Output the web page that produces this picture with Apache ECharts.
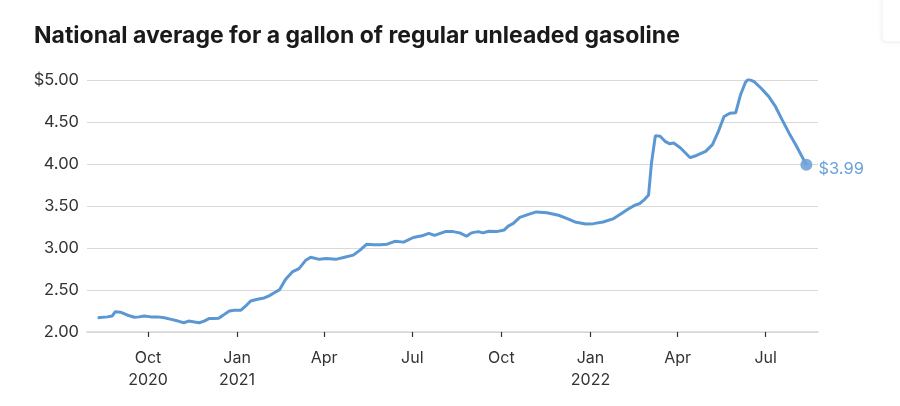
<!DOCTYPE html>
<html>
<head>
<meta charset="utf-8">
<script src="https://cdn.jsdelivr.net/npm/echarts@6/dist/echarts.min.js"></script>
<style>
html,body{margin:0;padding:0;background:#fff;}
#chart{width:900px;height:406px;}
</style>
</head>
<body>
<div id="chart"></div>
<script>
const titleText = 'National average for a gallon of regular unleaded gasoline';

const dates = [
 '2020-08-10','2020-08-20','2020-08-25','2020-08-28','2020-09-03','2020-09-10','2020-09-17','2020-09-22','2020-09-27',
 '2020-10-04','2020-10-11','2020-10-18','2020-10-25','2020-11-01','2020-11-07','2020-11-12','2020-11-18','2020-11-23','2020-11-28',
 '2020-12-03','2020-12-08','2020-12-13','2020-12-17','2020-12-24','2020-12-29',
 '2021-01-05','2021-01-10','2021-01-15','2021-01-22','2021-01-29','2021-02-03','2021-02-08','2021-02-14','2021-02-20','2021-02-27',
 '2021-03-06','2021-03-13','2021-03-18','2021-03-27','2021-04-03','2021-04-13','2021-04-22','2021-05-01','2021-05-08','2021-05-15',
 '2021-05-22','2021-05-29','2021-06-05','2021-06-13','2021-06-22','2021-07-02','2021-07-11','2021-07-18','2021-07-24',
 '2021-08-04','2021-08-12','2021-08-19','2021-08-26','2021-08-31','2021-09-07','2021-09-12','2021-09-18','2021-09-26',
 '2021-10-04','2021-10-08','2021-10-13','2021-10-20','2021-10-22','2021-10-29','2021-11-06','2021-11-17','2021-11-29',
 '2021-12-08','2021-12-16','2021-12-27','2022-01-04','2022-01-14','2022-01-25','2022-02-02','2022-02-09','2022-02-16',
 '2022-02-21','2022-02-26','2022-03-02','2022-03-05','2022-03-09','2022-03-14','2022-03-19','2022-03-24','2022-03-28',
 '2022-04-04','2022-04-14','2022-04-19','2022-04-24','2022-04-30','2022-05-07','2022-05-13','2022-05-19','2022-05-25',
 '2022-05-31','2022-06-05','2022-06-10','2022-06-13','2022-06-19','2022-06-26','2022-07-04','2022-07-11','2022-07-18',
 '2022-07-25','2022-08-01','2022-08-12'
];

const prices = [
 2.17,2.18,2.19,2.24,2.235,2.20,2.175,2.18,2.19,
 2.18,2.18,2.17,2.15,2.13,2.11,2.13,2.12,2.11,2.13,
 2.16,2.16,2.165,2.195,2.25,2.26,
 2.26,2.31,2.37,2.39,2.405,2.43,2.465,2.505,2.625,2.715,
 2.755,2.855,2.89,2.865,2.875,2.865,2.89,2.915,2.975,3.045,
 3.04,3.04,3.045,3.08,3.07,3.125,3.145,3.175,3.15,
 3.195,3.195,3.18,3.14,3.18,3.195,3.18,3.20,3.195,
 3.215,3.26,3.29,3.365,3.37,3.40,3.43,3.42,3.39,
 3.35,3.31,3.285,3.29,3.31,3.35,3.41,3.465,3.51,
 3.53,3.58,3.63,4.01,4.335,4.33,4.27,4.24,4.25,
 4.19,4.075,4.095,4.12,4.15,4.23,4.385,4.565,4.605,
 4.61,4.825,4.97,5.01,4.98,4.905,4.805,4.685,4.525,
 4.37,4.23,3.99
];

const xTickDates = ['2020-10-01','2021-01-01','2021-04-01','2021-07-01','2021-10-01','2022-01-01','2022-04-01','2022-07-01'];
const xTickLabels = ['Oct\n2020','Jan\n2021','Apr','Jul','Oct','Jan\n2022','Apr','Jul'];
const yTickValues = [2, 2.5, 3, 3.5, 4, 4.5, 5];
const yTickLabels = ['2.00','2.50','3.00','3.50','4.00','4.50','$5.00'];
const endLabel = '$3.99';

const xMin = '2020-07-30';
const xMax = '2022-08-24';

const FONT = 'Inter, "Noto Sans", sans-serif';
const lineColor = '#5b97d3';

const ts = d => Date.parse(d + 'T00:00:00Z');
const tickTs = xTickDates.map(ts);
const series = dates.map((d, i) => [ts(d), prices[i]]);
const last = series[series.length - 1];

const chart = echarts.init(document.getElementById('chart'), null, {renderer: 'canvas'});
chart.setOption({
  animation: false,
  backgroundColor: '#fff',
  title: {
    text: titleText,
    left: 29,
    top: 20,
    textStyle: {fontFamily: FONT, fontWeight: 'bold', fontSize: 23, color: '#1a1a1a'}
  },
  graphic: [{
    type: 'rect',
    shape: {x: 882, y: -10, width: 40, height: 52, r: 4},
    style: {fill: '#fff', stroke: '#f0f0f0', lineWidth: 1, shadowBlur: 6, shadowColor: 'rgba(0,0,0,0.05)'},
    silent: true
  }],
  grid: {left: 87, right: 82, top: 80, bottom: 74, containLabel: false},
  xAxis: {
    type: 'value',
    min: ts(xMin),
    max: ts(xMax),
    axisLine: {show: true, onZero: false, lineStyle: {color: '#d6d6d6', width: 1.5}},
    axisTick: {show: true, customValues: tickTs, length: 5, lineStyle: {color: '#333', width: 1.2}},
    axisLabel: {
      customValues: tickTs,
      formatter: function (v) {
        const i = tickTs.indexOf(+v);
        return i >= 0 ? xTickLabels[i] : '';
      },
      fontFamily: FONT, fontSize: 16, color: '#333', lineHeight: 22, margin: 15
    },
    splitLine: {show: false}
  },
  yAxis: {
    type: 'value',
    min: 2, max: 5, interval: 0.5,
    axisLine: {show: false},
    axisTick: {show: false},
    axisLabel: {
      formatter: function (v) {
        const i = yTickValues.findIndex(t => Math.abs(t - v) < 1e-9);
        return i >= 0 ? yTickLabels[i] : '';
      },
      fontFamily: FONT, fontSize: 16.5, color: '#333', margin: 8
    },
    splitLine: {show: true, lineStyle: {color: '#d9d9d9', width: 1}}
  },
  series: [
    {
      type: 'line',
      data: series,
      showSymbol: false,
      symbol: 'none',
      lineStyle: {color: lineColor, width: 3},
      z: 2
    },
    {
      type: 'scatter',
      data: [last],
      symbolSize: 12,
      itemStyle: {color: '#6fa3d9', opacity: 0.9},
      label: {
        show: true,
        position: 'right',
        distance: 6,
        offset: [0, 4],
        formatter: endLabel,
        fontFamily: FONT, fontSize: 16.5, color: lineColor
      },
      z: 3
    }
  ]
});
</script>
</body>
</html>
